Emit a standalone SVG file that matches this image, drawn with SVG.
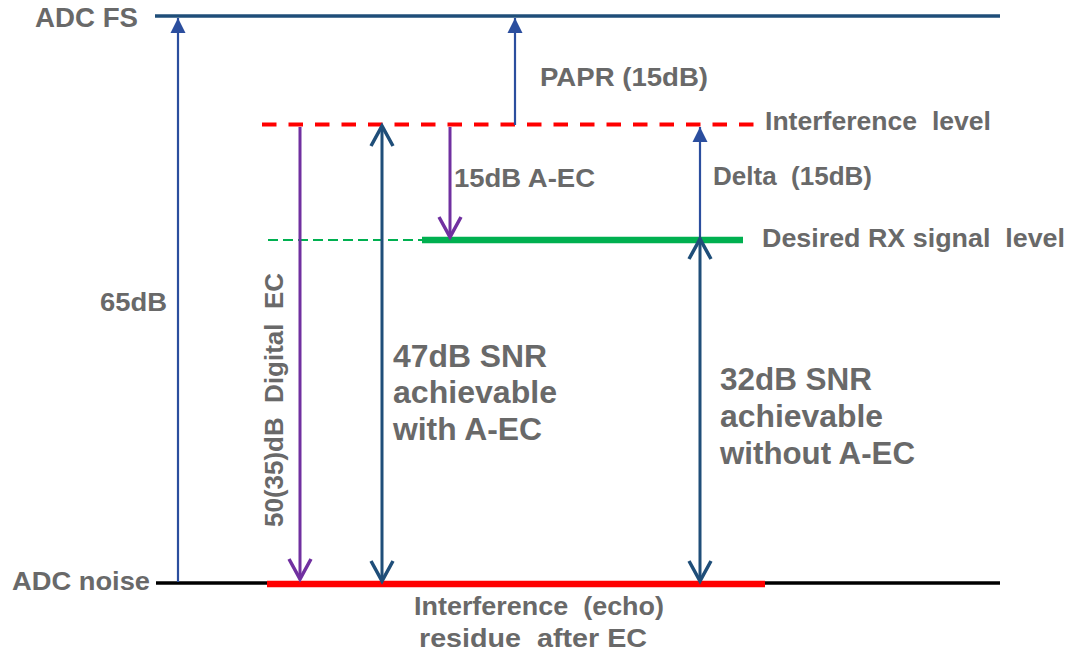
<svg xmlns="http://www.w3.org/2000/svg" width="1068" height="652" viewBox="0 0 1068 652">
  <style>
    .t { font-family: "Liberation Sans", Arial, sans-serif; font-weight: bold; fill: #696969; }
    .m { font-size: 25px; }
    .b { font-size: 31px; }
    .thin { stroke: #2B4E9E; stroke-width: 2.2; fill: none; }
    .navy { stroke: #1F4E79; stroke-width: 3; fill: none; }
    .purple { stroke: #7030A0; stroke-width: 3; fill: none; }
  </style>
  <defs>
    <marker id="tri" markerUnits="userSpaceOnUse" markerWidth="16" markerHeight="16" viewBox="0 0 16 16" refX="15" refY="8" orient="auto">
      <path d="M0,0.5 L15,8 L0,15.5 z" fill="#2B4E9E"/>
    </marker>
    <marker id="chevNavy" markerUnits="userSpaceOnUse" markerWidth="26" markerHeight="28" viewBox="-2 -3 26 28" refX="20" refY="11" orient="auto-start-reverse">
      <path d="M0,0 L20,11 L0,22" fill="none" stroke="#1F4E79" stroke-width="3.5"/>
    </marker>
    <marker id="chevPurple" markerUnits="userSpaceOnUse" markerWidth="26" markerHeight="28" viewBox="-2 -3 26 28" refX="20" refY="11" orient="auto">
      <path d="M0,0 L20,11 L0,22" fill="none" stroke="#7030A0" stroke-width="3.5"/>
    </marker>
  </defs>

  <g id="adc-fs">
    <line x1="155" y1="16" x2="1000" y2="16" stroke="#1F4E79" stroke-width="3.5"/>
    <text class="t" x="35" y="27" font-size="27" textLength="103" lengthAdjust="spacingAndGlyphs">ADC FS</text>
  </g>

  <g id="interference-level">
    <line x1="262" y1="124.5" x2="760" y2="124.5" stroke="#FF0000" stroke-width="4" stroke-dasharray="14.5 12"/>
    <text class="t m" x="765" y="130" xml:space="preserve" textLength="226" lengthAdjust="spacingAndGlyphs">Interference  level</text>
  </g>

  <g id="desired-rx">
    <line x1="268" y1="240" x2="422" y2="240" stroke="#00B050" stroke-width="2" stroke-dasharray="10 5"/>
    <line x1="422" y1="240" x2="743" y2="240" stroke="#00B050" stroke-width="6.5"/>
    <text class="t m" x="762" y="247" xml:space="preserve" textLength="303" lengthAdjust="spacingAndGlyphs">Desired RX signal  level</text>
  </g>

  <g id="adc-noise">
    <line x1="156" y1="583" x2="1000" y2="583" stroke="#000000" stroke-width="3.5"/>
    <text class="t m" x="12" y="590" textLength="138" lengthAdjust="spacingAndGlyphs">ADC noise</text>
  </g>

  <g id="echo-residue">
    <line x1="267" y1="584" x2="765" y2="584" stroke="#FF0000" stroke-width="6.5"/>
    <text class="t m" x="414" y="615" xml:space="preserve" textLength="250" lengthAdjust="spacingAndGlyphs">Interference  (echo)</text>
    <text class="t m" x="419" y="647" xml:space="preserve" textLength="228" lengthAdjust="spacingAndGlyphs">residue  after EC</text>
  </g>

  <g id="connectors">
    <line class="thin" x1="178" y1="582" x2="178" y2="18" marker-end="url(#tri)"/>
    <line class="thin" x1="515" y1="125" x2="515" y2="18" marker-end="url(#tri)"/>
    <line class="thin" x1="700" y1="240" x2="700" y2="127" marker-end="url(#tri)"/>
    <line class="purple" x1="450" y1="127" x2="450" y2="237" marker-end="url(#chevPurple)"/>
    <line class="purple" x1="300" y1="127" x2="300" y2="579" marker-end="url(#chevPurple)"/>
    <line class="navy" x1="382" y1="126" x2="382" y2="581" marker-start="url(#chevNavy)" marker-end="url(#chevNavy)"/>
    <line class="navy" x1="700" y1="239" x2="700" y2="581" marker-start="url(#chevNavy)" marker-end="url(#chevNavy)"/>
  </g>

  <g id="label-65db">
    <text class="t m" x="100" y="311" textLength="67" lengthAdjust="spacingAndGlyphs">65dB</text>
  </g>
  <g id="label-papr">
    <text class="t m" x="540" y="86" textLength="168" lengthAdjust="spacingAndGlyphs">PAPR (15dB)</text>
  </g>
  <g id="label-aec">
    <text class="t m" x="454" y="187" textLength="141" lengthAdjust="spacingAndGlyphs">15dB A-EC</text>
  </g>
  <g id="label-delta">
    <text class="t m" x="713" y="185" xml:space="preserve" textLength="159" lengthAdjust="spacingAndGlyphs">Delta  (15dB)</text>
  </g>
  <g id="label-digital-ec">
    <text class="t m" transform="translate(283,527) rotate(-90)" x="0" y="0" xml:space="preserve" textLength="254" lengthAdjust="spacingAndGlyphs">50(35)dB  Digital  EC</text>
  </g>
  <g id="label-47db">
    <text class="t b" x="393" y="367" textLength="154" lengthAdjust="spacingAndGlyphs">47dB SNR</text>
    <text class="t b" x="393" y="403" textLength="164" lengthAdjust="spacingAndGlyphs">achievable</text>
    <text class="t b" x="393" y="440" textLength="149" lengthAdjust="spacingAndGlyphs">with A-EC</text>
  </g>
  <g id="label-32db">
    <text class="t b" x="720" y="390" textLength="152" lengthAdjust="spacingAndGlyphs">32dB SNR</text>
    <text class="t b" x="720" y="427" textLength="163" lengthAdjust="spacingAndGlyphs">achievable</text>
    <text class="t b" x="720" y="464" textLength="195" lengthAdjust="spacingAndGlyphs">without A-EC</text>
  </g>
</svg>
